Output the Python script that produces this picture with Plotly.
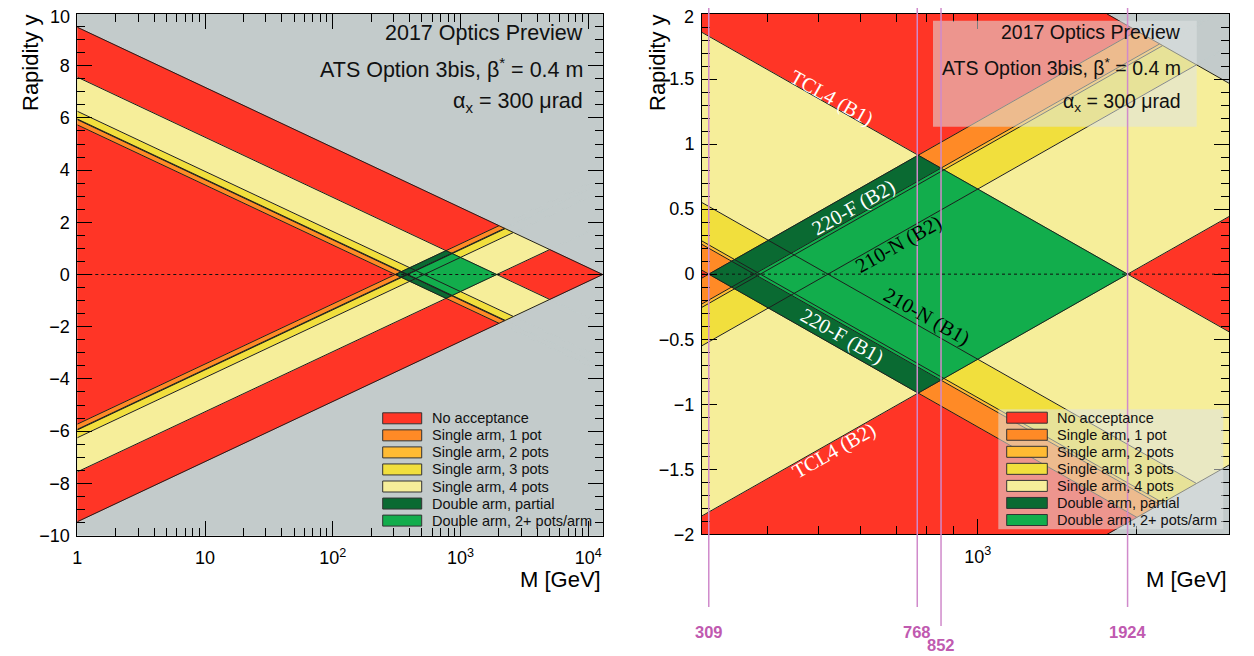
import math
import plotly.graph_objects as go

OFF = 8                      # default page body margin of the html page
W, H = 1254 - OFF, 656 - OFF
FONT = "Liberation Sans, Arial, Helvetica, sans-serif"
SERIF = "Liberation Serif, Times New Roman, serif"

# ---------------- data ----------------
SQRT_S = 13000.0                       # GeV, kinematic limit xi = 1
TCL4_XI_M = 1924.0                     # xi_max * sqrt(s) from TCL4, both beams
POT_XI_M = [309.0, 377.0, 387.0, 520.0]  # xi_min * sqrt(s) of the 4 pots per arm (220-F ... 210-N)
MARKER_M = [309, 768, 852, 1924]
MARKER_TEXT = ["309", "768", "852", "1924"]

CATEGORIES = ["No acceptance", "Single arm, 1 pot", "Single arm, 2 pots",
              "Single arm, 3 pots", "Single arm, 4 pots",
              "Double arm, partial", "Double arm, 2+ pots/arm"]
CAT_COLORS = ["#ff3526", "#ff8a26", "#ffbb33", "#f1df3d", "#f6ee9a",
              "#0a6a32", "#12ad4c"]
GREY = "#c3cbcb"

LEFT_M_RANGE = [1.0, 13000.0]
LEFT_Y_RANGE = [-10.0, 10.0]
RIGHT_M_RANGE = [300.0, 3000.0]
RIGHT_Y_RANGE = [-2.0, 2.0]

LEFT_XTICKS = [1, 10, 100, 1000, 10000]
LEFT_XTICKTEXT = ["1", "10", "10<sup>2</sup>", "10<sup>3</sup>", "10<sup>4</sup>"]
RIGHT_XTICKS = [1000]
RIGHT_XTICKTEXT = ["10<sup>3</sup>"]
LEFT_YTICKS = [-10, -8, -6, -4, -2, 0, 2, 4, 6, 8, 10]
RIGHT_YTICKS = [-2, -1.5, -1, -0.5, 0, 0.5, 1, 1.5, 2]

INFO_LINES = ["2017 Optics Preview",
              "ATS Option 3bis, \u03b2<sup>*</sup> = 0.4 m",
              "\u03b1<sub>x</sub> = 300 \u03bcrad"]

# (text, M, y, +1 descending / -1 rising, colour)
LINE_LABELS = [("TCL4 (B1)", 530, 1.354, +1, "white"),
               ("220-F (B2)", 583, 0.51, -1, "white"),
               ("210-N (B2)", 707, 0.231, -1, "black"),
               ("210-N (B1)", 798, -0.328, +1, "black"),
               ("220-F (B1)", 553, -0.482, +1, "white"),
               ("TCL4 (B2)", 535, -1.354, -1, "white")]

# ---------------- layout geometry (pixels of the reference) ----------------
LEFT_PX = (77.3, 602.7, 13.5, 535.5)
RIGHT_PX = (702.0, 1229.3, 14.0, 534.3)


def px(x):
    return (x - OFF) / W


def py(y):
    return 1 - (y - OFF) / H


LN10 = math.log(10)
LN_S = math.log(SQRT_S)
LN_T = math.log(TCL4_XI_M)
LN_POTS = [math.log(c) for c in POT_XI_M]


def classify(u, y):
    lnM = u * LN10
    L1 = lnM + y
    L2 = lnM - y
    if L1 > LN_S or L2 > LN_S:
        return "grey"
    n1 = sum(1 for c in LN_POTS if c < L1 < LN_T)
    n2 = sum(1 for c in LN_POTS if c < L2 < LN_T)
    return (n1, n2)


def color_of(key):
    if key == "grey":
        return GREY
    n1, n2 = key
    if n1 and n2:
        return CAT_COLORS[6] if min(n1, n2) >= 2 else CAT_COLORS[5]
    return CAT_COLORS[n1 + n2]


def clip(poly, a, b, d, s):
    out = []
    n = len(poly)
    for i in range(n):
        P = poly[i]
        Q = poly[(i + 1) % n]
        fp = s * (a * P[0] + b * P[1] - d)
        fq = s * (a * Q[0] + b * Q[1] - d)
        if fp >= 0:
            out.append(P)
        if (fp > 0 and fq < 0) or (fp < 0 and fq > 0):
            t = fp / (fp - fq)
            out.append((P[0] + t * (Q[0] - P[0]), P[1] + t * (Q[1] - P[1])))
    return out


def area(poly):
    s = 0.0
    for i in range(len(poly)):
        x0, y0 = poly[i]
        x1, y1 = poly[(i + 1) % len(poly)]
        s += x0 * y1 - x1 * y0
    return abs(s) / 2


LINES = []
for c in POT_XI_M + [TCL4_XI_M, SQRT_S]:
    LINES.append((LN10, 1.0, math.log(c)))
    LINES.append((LN10, -1.0, math.log(c)))

fig = go.Figure()


def build_panel(mrange, yrange, xa, ya):
    u0, u1 = math.log10(mrange[0]), math.log10(mrange[1])
    y0, y1 = yrange
    cells = [[(u0, y0), (u1, y0), (u1, y1), (u0, y1)]]
    for (a, b, d) in LINES:
        nc = []
        for p in cells:
            for s in (1, -1):
                q = clip(p, a, b, d, s)
                if len(q) >= 3 and area(q) > 1e-10:
                    nc.append(q)
        cells = nc
    groups = {}
    segs_x, segs_y = [], []
    for cell in cells:
        cu = sum(p[0] for p in cell) / len(cell)
        cy = sum(p[1] for p in cell) / len(cell)
        key = classify(cu, cy)
        col = color_of(key)
        gx, gy = groups.setdefault(col, ([], []))
        for (u, y) in cell + [cell[0]]:
            gx.append(10 ** u)
            gy.append(y)
        gx.append(None)
        gy.append(None)
        n = len(cell)
        for i in range(n):
            P = cell[i]
            Q = cell[(i + 1) % n]
            eu, ey = Q[0] - P[0], Q[1] - P[1]
            L = math.hypot(eu, ey)
            if L < 1e-9:
                continue
            nu, ny = ey / L, -eu / L
            mu, my = (P[0] + Q[0]) / 2, (P[1] + Q[1]) / 2
            if nu * (mu - cu) + ny * (my - cy) < 0:
                nu, ny = -nu, -ny
            tu, ty = mu + nu * 1e-5, my + ny * 1e-5
            if tu < u0 or tu > u1 or ty < y0 or ty > y1:
                continue
            k2 = classify(tu, ty)
            if k2 != key and str(key) < str(k2):
                segs_x += [10 ** P[0], 10 ** Q[0], None]
                segs_y += [P[1], Q[1], None]
    order = [GREY] + CAT_COLORS
    for col in order:
        if col not in groups:
            continue
        gx, gy = groups[col]
        fig.add_trace(go.Scatter(x=gx, y=gy, mode="lines", fill="toself",
                                 fillcolor=col, line=dict(color=col, width=0.8),
                                 hoverinfo="skip", showlegend=False,
                                 xaxis=xa, yaxis=ya))
    fig.add_trace(go.Scatter(x=segs_x, y=segs_y, mode="lines",
                             line=dict(color="#1e1e1e", width=1),
                             hoverinfo="skip", showlegend=False,
                             xaxis=xa, yaxis=ya))
    fig.add_trace(go.Scatter(x=[mrange[0], mrange[1]], y=[0, 0], mode="lines",
                             line=dict(color="#111111", width=1, dash="dot"),
                             hoverinfo="skip", showlegend=False,
                             xaxis=xa, yaxis=ya))


build_panel(LEFT_M_RANGE, LEFT_Y_RANGE, "x", "y")
build_panel(RIGHT_M_RANGE, RIGHT_Y_RANGE, "x2", "y2")

tickfont = dict(family=FONT, size=18, color="black")
common = dict(showline=True, linecolor="black", linewidth=1, mirror="allticks",
              ticks="inside", tickcolor="black", tickwidth=1, showgrid=False,
              zeroline=False, tickfont=tickfont, fixedrange=True,
              ticklabeloverflow="allow")


def minor_log(lo, hi):
    vals = []
    e = 0
    while 10 ** e <= hi:
        for k in range(2, 10):
            v = k * 10 ** e
            if lo <= v <= hi:
                vals.append(v)
        e += 1
    return vals


def fmt(v):
    s = ("%g" % abs(v))
    return ("\u2212" + s) if v < 0 else s


# top-most y labels are written as annotations (nudged so they are not clipped)
LY_AXIS = LEFT_YTICKS[:-1]
RY_AXIS = RIGHT_YTICKS[:-1]

fig.update_layout(
    width=W, height=H, margin=dict(l=0, r=0, t=0, b=0, autoexpand=False),
    paper_bgcolor="white", plot_bgcolor=GREY, showlegend=False,
    xaxis=dict(common, type="log", domain=[px(LEFT_PX[0]), px(LEFT_PX[1])],
               range=[math.log10(LEFT_M_RANGE[0]), math.log10(LEFT_M_RANGE[1])],
               tickmode="array", tickvals=LEFT_XTICKS, ticktext=LEFT_XTICKTEXT,
               ticklen=15, ticklabelstandoff=6, anchor="y",
               minor=dict(ticks="inside", ticklen=8, tickcolor="black",
                          tickmode="array",
                          tickvals=minor_log(LEFT_M_RANGE[0], LEFT_M_RANGE[1]))),
    yaxis=dict(common, domain=[py(LEFT_PX[3]), py(LEFT_PX[2])],
               range=LEFT_Y_RANGE, tickmode="array", tickvals=LY_AXIS,
               ticktext=[fmt(v) for v in LY_AXIS], ticklen=15,
               ticklabelstandoff=3, anchor="x",
               minor=dict(ticks="inside", ticklen=8, dtick=0.5, tick0=0,
                          tickcolor="black")),
    xaxis2=dict(common, type="log", domain=[px(RIGHT_PX[0]), px(RIGHT_PX[1])],
                range=[math.log10(RIGHT_M_RANGE[0]), math.log10(RIGHT_M_RANGE[1])],
                tickmode="array", tickvals=RIGHT_XTICKS, ticktext=RIGHT_XTICKTEXT,
                ticklen=15, ticklabelstandoff=6, anchor="y2",
                minor=dict(ticks="inside", ticklen=8, tickcolor="black",
                           tickmode="array",
                           tickvals=minor_log(RIGHT_M_RANGE[0], RIGHT_M_RANGE[1]))),
    yaxis2=dict(common, domain=[py(RIGHT_PX[3]), py(RIGHT_PX[2])],
                range=RIGHT_Y_RANGE, tickmode="array", tickvals=RY_AXIS,
                ticktext=[fmt(v) for v in RY_AXIS], ticklen=15,
                ticklabelstandoff=3, anchor="x2",
                minor=dict(ticks="inside", ticklen=8, dtick=0.1, tick0=0,
                           tickcolor="black")),
)

shapes = []
annotations = []

# top y tick labels
for (xr, v) in [(LEFT_PX[0] - 5.8, LEFT_YTICKS[-1]), (RIGHT_PX[0] - 5.8, RIGHT_YTICKS[-1])]:
    annotations.append(dict(text=fmt(v), xref="paper", yref="paper", x=px(xr), y=py(16.5),
                            xanchor="right", yanchor="middle", showarrow=False,
                            font=tickfont))

BOX_FILL = "rgba(222,228,228,0.55)"
# info box (right panel) and legend box (right panel)
shapes.append(dict(type="rect", xref="paper", yref="paper", x0=px(933), x1=px(1196.7),
                   y0=py(126.7), y1=py(20.7), fillcolor=BOX_FILL, line=dict(width=0)))
shapes.append(dict(type="rect", xref="paper", yref="paper", x0=px(998.3), x1=px(1223.3),
                   y0=py(529.3), y1=py(409.3), fillcolor=BOX_FILL, line=dict(width=0)))

# info texts
for (xr, ys, fs) in [(585, [33, 68, 103], 21.5), (1183, [31.7, 66.7, 103], 19.5)]:
    for t, yy in zip(INFO_LINES, ys):
        annotations.append(dict(text=t, xref="paper", yref="paper", x=px(xr), y=py(yy),
                                xanchor="right", yanchor="middle", showarrow=False,
                                font=dict(family=FONT, size=fs, color="#111111")))

# legends
for (sx0, sx1, tx, ytop) in [(382.7, 421.7, 430, 418.3), (1006.7, 1047.3, 1055, 417.7)]:
    for i, (name, col) in enumerate(zip(CATEGORIES, CAT_COLORS)):
        yc = ytop + i * 17.05
        shapes.append(dict(type="rect", xref="paper", yref="paper", x0=px(sx0), x1=px(sx1),
                           y0=py(yc + 5.5), y1=py(yc - 5.5), fillcolor=col,
                           line=dict(color="#333333", width=1)))
        annotations.append(dict(text=name, xref="paper", yref="paper", x=px(tx), y=py(yc),
                                xanchor="left", yanchor="middle", showarrow=False,
                                font=dict(family=FONT, size=14.5, color="#111111")))

# axis titles
for xc in [30, 657]:
    annotations.append(dict(text="Rapidity y", xref="paper", yref="paper", x=px(xc), y=py(63),
                            xanchor="center", yanchor="middle", textangle=-90, showarrow=False,
                            font=dict(family=FONT, size=22, color="black")))
for xr in [603, 1229]:
    annotations.append(dict(text="M [GeV]", xref="paper", yref="paper", x=px(xr), y=py(579),
                            xanchor="right", yanchor="middle", showarrow=False,
                            font=dict(family=FONT, size=22, color="black")))

# line labels on right panel
rx0, rx1, ry0, ry1 = RIGHT_PX
px_per_dec = (rx1 - rx0) / (math.log10(RIGHT_M_RANGE[1]) - math.log10(RIGHT_M_RANGE[0]))
px_per_y = (ry1 - ry0) / (RIGHT_Y_RANGE[1] - RIGHT_Y_RANGE[0])
ANG = math.degrees(math.atan(LN10 * px_per_y / px_per_dec))
for (t, m, yv, dirn, col) in LINE_LABELS:
    annotations.append(dict(text=t, xref="x2", yref="y2", x=math.log10(m), y=yv,
                            xanchor="center", yanchor="middle", showarrow=False,
                            textangle=ANG * dirn,
                            font=dict(family=SERIF, size=20.5, color=col)))

# pink marker lines
for m, t in zip(MARKER_M, MARKER_TEXT):
    low = 626 if t == "852" else 607
    shapes.append(dict(type="line", xref="x2", yref="paper", x0=m, x1=m,
                       y0=py(low), y1=py(4), line=dict(color="#d08acb", width=1.5)))
    annotations.append(dict(text="<b>%s</b>" % t, xref="x2", yref="paper", x=math.log10(m),
                            y=py(632 if t != "852" else 645), xanchor="center",
                            yanchor="middle", showarrow=False,
                            font=dict(family=FONT, size=16.5, color="#c05ab0")))

fig.update_layout(shapes=shapes, annotations=annotations)
fig.write_html("out.html")
